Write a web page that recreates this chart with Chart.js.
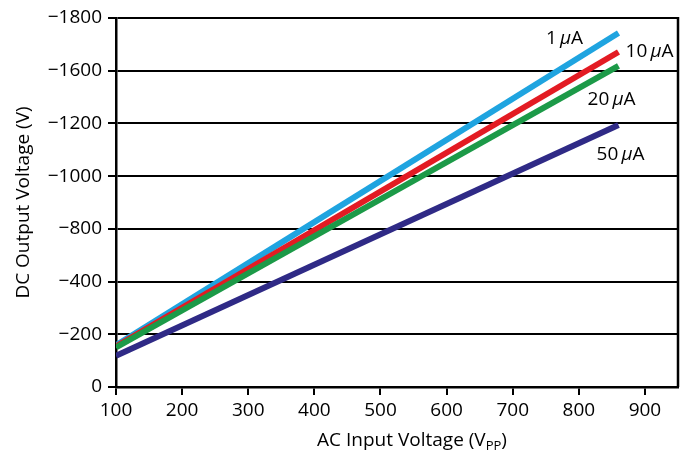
<!DOCTYPE html>
<html>
<head>
<meta charset="utf-8">
<script src="https://cdn.jsdelivr.net/npm/chart.js"></script>
<style>
  html, body { margin: 0; padding: 0; background: #fff; }
  #wrap { width: 688px; height: 464px; }
</style>
</head>
<body>
<div id="wrap"><canvas id="dcChart"></canvas></div>
<script>
    // AC input voltage (Vpp) at the two ends of each line
    const acInput = [100, 860];
    // DC output voltage for each load current
    const out1uA = [-158, -1343];
    const out10uA = [-154, -1271];
    const out20uA = [-150, -1218];
    const out50uA = [-118, -994];
    const currentNums = ['1', '10', '20', '50'];
    // x ticks, and the printed labels of the gridlines (bottom to top)
    const xTicks = [100, 200, 300, 400, 500, 600, 700, 800, 900];
    const yTickLabels = ['0', '\u2212200', '\u2212400', '\u2212800', '\u22121000', '\u22121200', '\u22121600', '\u22121800'];

    const FONT = "'Open Sans', 'DejaVu Sans', sans-serif";
    const ink = '#000';
    const SIZE = 19;

    function points(ys) {
        return acInput.map((v, i) => ({ x: v, y: ys[i] }));
    }

    // where each "n µA" label sits, relative to the end of its line (px)
    const labelOffsets = [[-54, 6], [31, 0], [-7, 34], [2, 30]];

    function drawCurrentLabel(ctx, num, cx, cy) {
        const normal = SIZE + 'px ' + FONT;
        const italic = 'italic ' + SIZE + 'px ' + FONT;
        ctx.font = normal;
        const a = ctx.measureText(num + '\u2009').width;
        const c = ctx.measureText('A').width;
        ctx.font = italic;
        const b = ctx.measureText('\u03bc').width;
        let x = cx - (a + b + c) / 2;
        ctx.font = normal;
        ctx.fillText(num + '\u2009', x, cy);
        x += a;
        ctx.font = italic;
        ctx.fillText('\u03bc', x, cy);
        x += b;
        ctx.font = normal;
        ctx.fillText('A', x, cy);
    }

    const annotatePlugin = {
        id: 'annotate',
        afterDraw(chart) {
            const ctx = chart.ctx;
            const xs = chart.scales.x, ys = chart.scales.y;
            const area = chart.chartArea;
            ctx.save();
            ctx.fillStyle = ink;
            ctx.textAlign = 'left';
            ctx.textBaseline = 'middle';
            chart.data.datasets.forEach((ds, i) => {
                const last = ds.data[ds.data.length - 1];
                const px = xs.getPixelForValue(last.x) + labelOffsets[i][0];
                const py = ys.getPixelForValue(last.y) + labelOffsets[i][1];
                drawCurrentLabel(ctx, currentNums[i], px, py);
            });

            // x axis title with subscript
            const main = 'AC Input Voltage (V';
            ctx.font = SIZE + 'px ' + FONT;
            const w1 = ctx.measureText(main).width;
            const w3 = ctx.measureText(')').width;
            ctx.font = '13px ' + FONT;
            const w2 = ctx.measureText('PP').width;
            let tx = 412 - (w1 + w2 + w3) / 2;
            const ty = 441;
            ctx.font = SIZE + 'px ' + FONT;
            ctx.fillText(main, tx, ty);
            tx += w1;
            ctx.font = '13px ' + FONT;
            ctx.fillText('PP', tx, ty + 5);
            tx += w2;
            ctx.font = SIZE + 'px ' + FONT;
            ctx.fillText(')', tx, ty);

            // right-hand frame line
            ctx.strokeStyle = '#000';
            ctx.lineWidth = 2.5;
            ctx.beginPath();
            ctx.moveTo(area.right, area.top - 1);
            ctx.lineTo(area.right, area.bottom);
            ctx.stroke();
            ctx.restore();
        }
    };

    const lineStyle = {
        borderWidth: 6,
        borderCapStyle: 'butt',
        pointRadius: 0,
        fill: false,
        tension: 0
    };

    new Chart(document.getElementById('dcChart').getContext('2d'), {
        type: 'line',
        data: {
            datasets: [
                { label: '1 \u03bcA', data: points(out1uA), borderColor: '#1fa4e0', order: 4, ...lineStyle },
                { label: '10 \u03bcA', data: points(out10uA), borderColor: '#e31b23', order: 3, ...lineStyle },
                { label: '20 \u03bcA', data: points(out20uA), borderColor: '#1c9a48', order: 2, ...lineStyle },
                { label: '50 \u03bcA', data: points(out50uA), borderColor: '#2f2a86', order: 1, ...lineStyle }
            ]
        },
        options: {
            responsive: true,
            maintainAspectRatio: false,
            animation: false,
            layout: {
                padding: { left: 0, top: 18, right: 10, bottom: 0 }
            },
            scales: {
                x: {
                    type: 'linear',
                    min: 100,
                    max: 950,
                    afterFit: function(scale) { scale.height = 77; },
                    afterBuildTicks: function(axis) {
                        axis.ticks = xTicks.map(v => ({ value: v }));
                    },
                    ticks: {
                        autoSkip: false,
                        maxRotation: 0,
                        color: ink,
                        padding: 4,
                        font: { family: FONT, size: SIZE }
                    },
                    grid: {
                        drawOnChartArea: false,
                        color: '#000',
                        lineWidth: 2,
                        tickLength: 8
                    },
                    border: { color: '#000', width: 2.5 }
                },
                y: {
                    min: -1400,
                    max: 0,
                    reverse: true,
                    afterFit: function(scale) { scale.width = 116; },
                    ticks: {
                        stepSize: 200,
                        color: ink,
                        padding: 6,
                        font: { family: FONT, size: SIZE },
                        callback: function(value) {
                            return yTickLabels[Math.round(-value / 200)];
                        }
                    },
                    grid: {
                        color: '#000',
                        lineWidth: 2,
                        tickLength: 8
                    },
                    border: { color: '#000', width: 2.5 },
                    title: {
                        display: true,
                        text: 'DC Output Voltage (V)',
                        color: ink,
                        font: { family: FONT, size: SIZE },
                        padding: { top: 12, bottom: 0 }
                    }
                }
            },
            plugins: {
                legend: { display: false },
                tooltip: { enabled: false }
            }
        },
        plugins: [annotatePlugin]
    });
</script>
</body>
</html>
